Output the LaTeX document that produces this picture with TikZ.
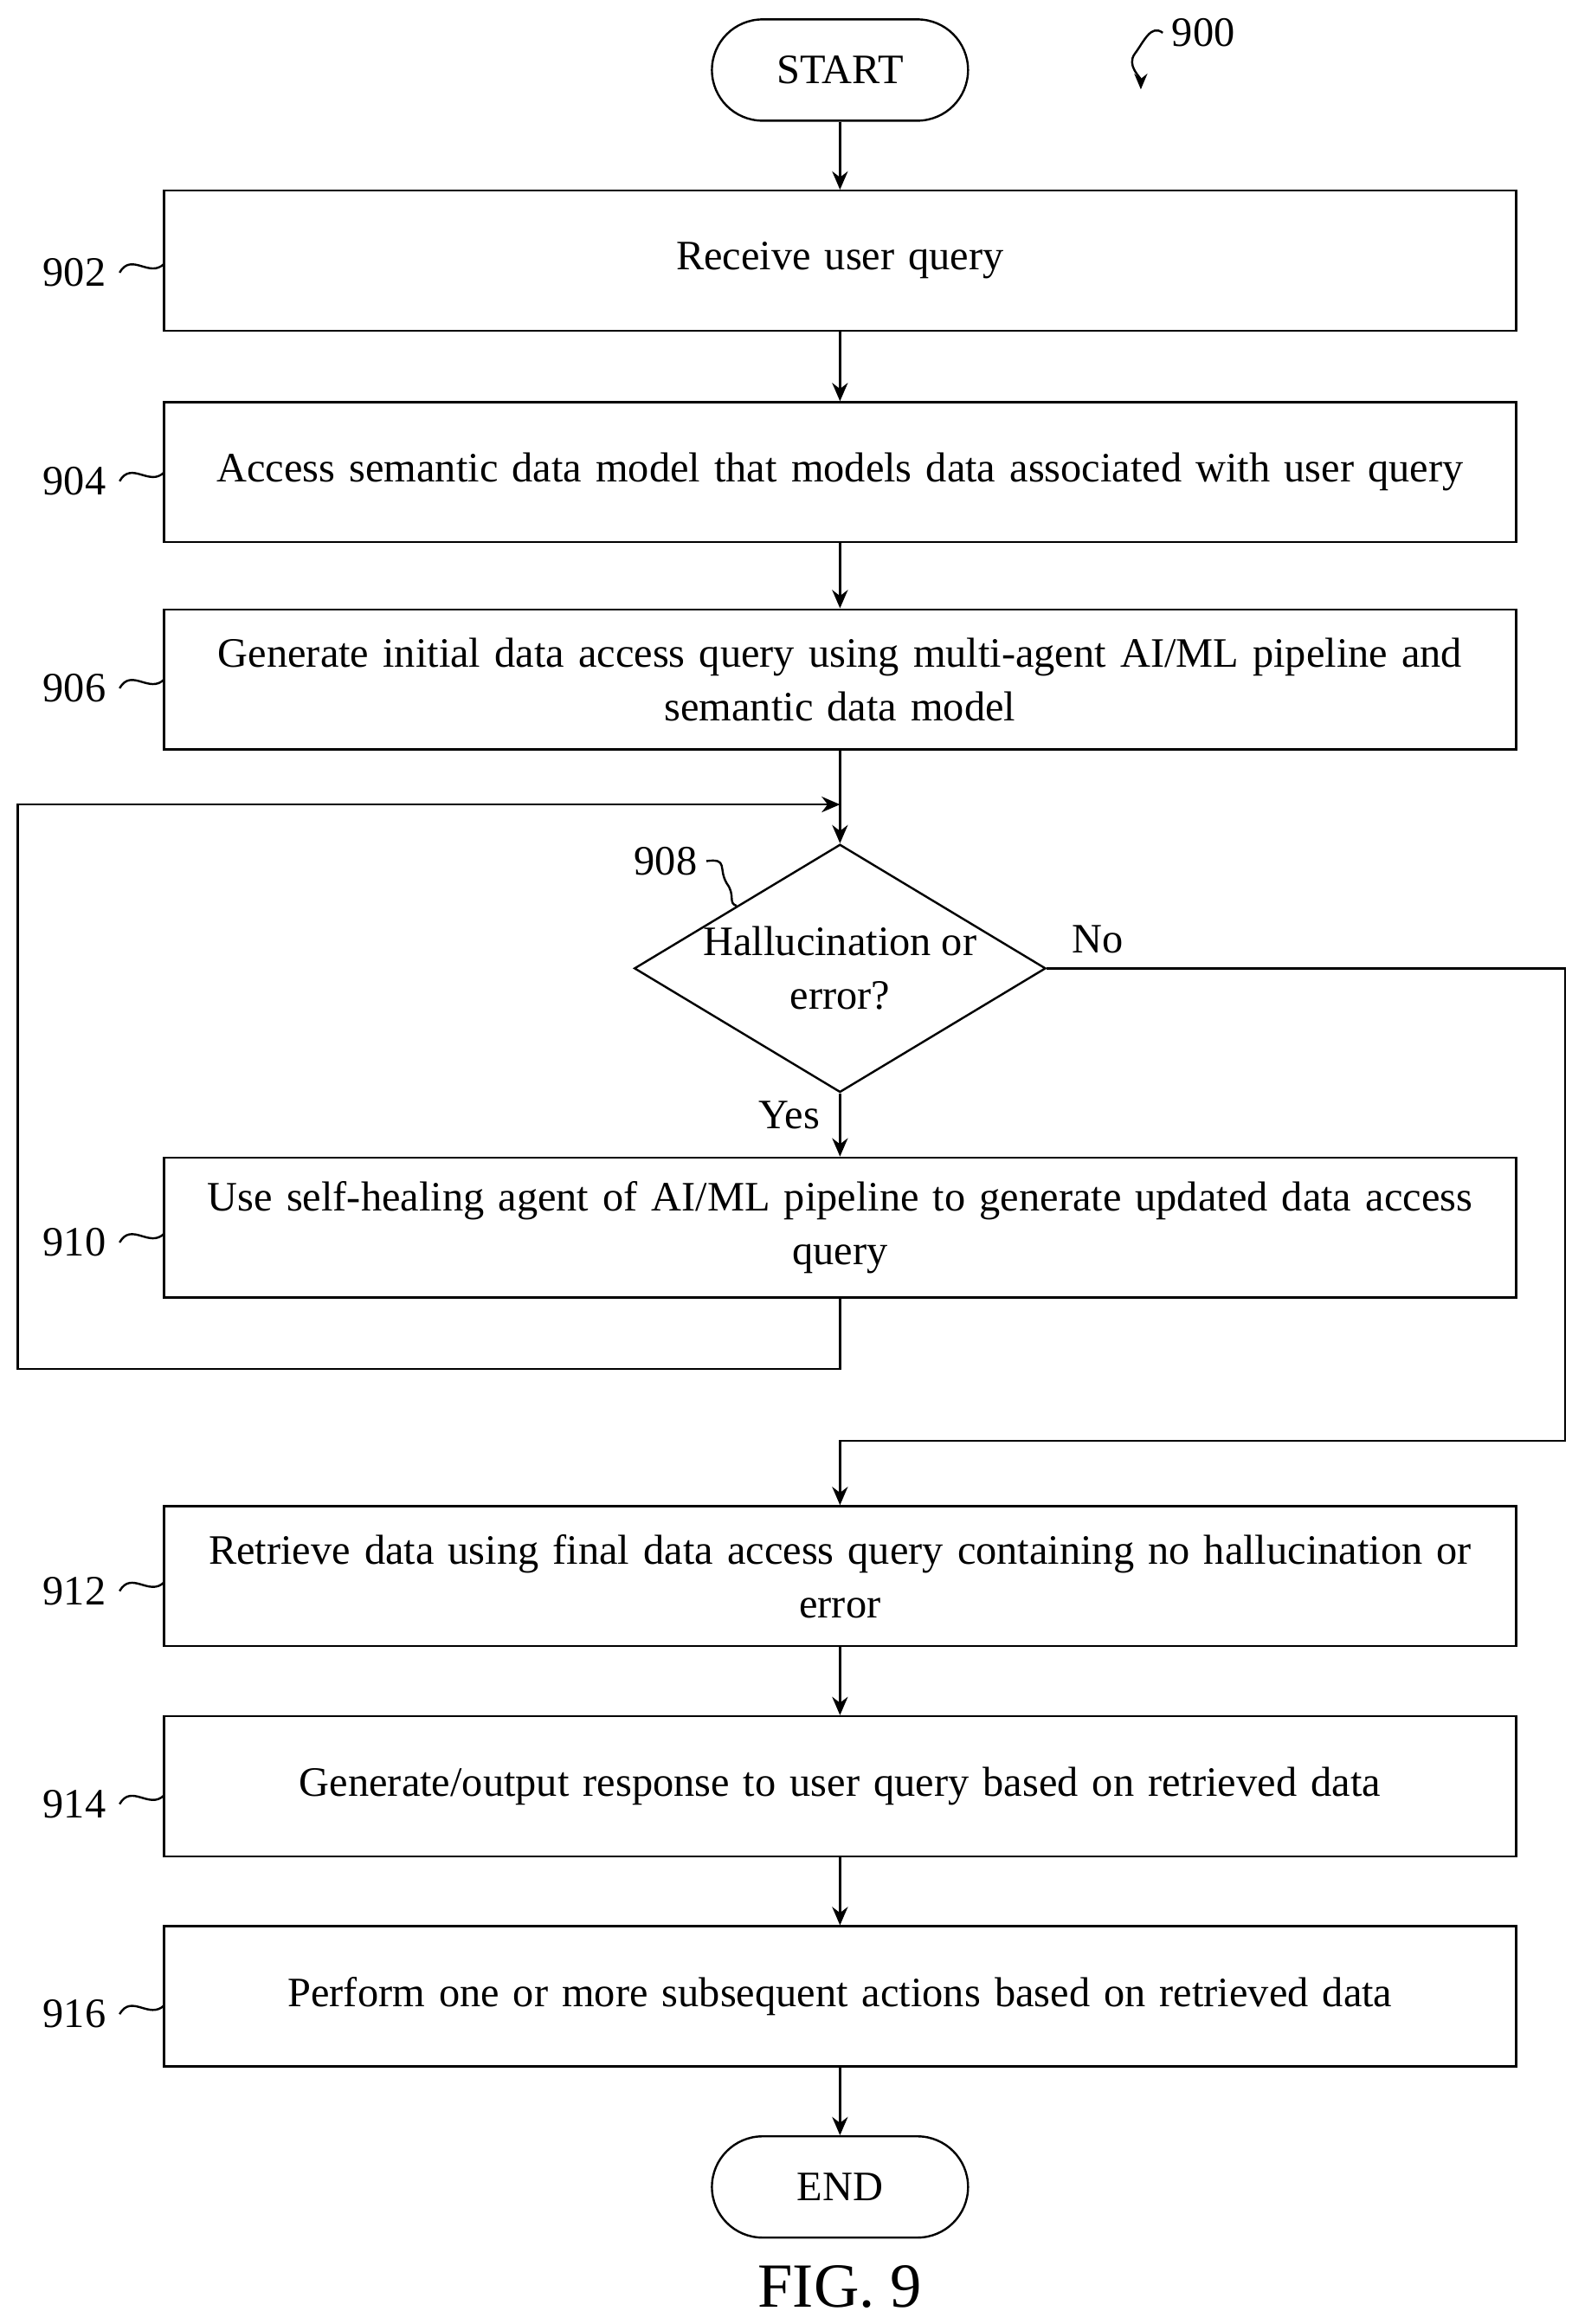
\documentclass[tikz,border=0pt]{standalone}
\usepackage{fontspec}
\setmainfont{Liberation Serif}
\usetikzlibrary{positioning,shapes.geometric,arrows.meta}
\begin{document}
\begin{tikzpicture}[x=0.02cm,y=-0.02cm,
    font=\fontsize{16}{20.5}\selectfont,
    procbox/.style={draw, thick, minimum width=18.16cm, minimum height=1.88cm, text width=17.6cm, align=center, inner sep=2pt},
    term/.style={draw, thick, rounded corners=0.68cm, minimum width=3.44cm, minimum height=1.36cm},
    decision/.style={draw, thick, diamond, aspect=1.66, minimum width=5.46cm, minimum height=3.28cm, inner sep=0pt, align=center},
    arrow/.style={-{Stealth[length=7pt,width=6pt]},thick},
    squig/.style={thick}
  ]
  \useasboundingbox (0,0) rectangle (1055,1560);

  % Terminals
  \node[term] (start) at (564,47) {START};
  \node[term] (end) at (564,1468) {END};

  % Steps
  \node[procbox] (s902) at (564,175) {Receive user query};
  \node[procbox] (s904) at (564,317) {Access semantic data model that models data associated with user query};
  \node[procbox] (s906) at (564,456) {Generate initial data access query using multi-agent AI/ML pipeline and\\semantic data model};
  \node[decision] (d908) at (564,650) {Hallucination or\\error?};
  \node[procbox] (s910) at (564,824) {Use self-healing agent of AI/ML pipeline to generate updated data access\\query};
  \node[procbox] (s912) at (564,1058) {Retrieve data using final data access query containing no hallucination or\\error};
  \node[procbox] (s914) at (564,1199) {Generate/output response to user query based on retrieved data};
  \node[procbox] (s916) at (564,1340) {Perform one or more subsequent actions based on retrieved data};

  % Reference numerals
  \foreach \n/\y in {902/183, 904/323, 906/462, 910/834, 912/1068, 914/1211, 916/1352} {
    \node (r\n) at (50,\y) {\n};
    \draw[squig] (r\n.east) ++(3,0) .. controls +(8,-14) and +(-10,10) .. ++(30,-6);
  }
  \node (r908) at (447,578) {908};
  \draw[squig] (r908.east) .. controls +(15,-2) and +(-6,-10) .. (488,593) .. controls +(6,8) and +(-6,-2) .. (d908.north west);
  \node (r900) at (808,22) {900};
  \draw[squig,-{Stealth[length=6pt,width=5pt]}] (r900.west) .. controls +(-8,-6) and +(6,-8) .. (762,36) .. controls +(-6,8) and +(0,-8) .. (766,60);

  % Connectors
  \draw[arrow] (start) -- (s902);
  \draw[arrow] (s902) -- (s904);
  \draw[arrow] (s904) -- (s906);
  \coordinate (loopin) at (564,540);
  \draw[arrow] (s906) -- (d908);
  \draw[arrow] (d908) -- node[pos=0.35, left=4pt] {Yes} (s910);
  \draw[arrow] (s910.south) -- (564,919) -- (12,919) -- (12,540) -- (loopin);
  \draw[arrow] (d908.east) node[above right=2pt and 6pt] {No} -- (1051,650) -- (1051,967) -- (564,967) -- (s912);
  \draw[arrow] (s912) -- (s914);
  \draw[arrow] (s914) -- (s916);
  \draw[arrow] (s916) -- (end);

  \node[font=\fontsize{24}{28}\selectfont] (fig) at (564,1535) {FIG. 9};
\end{tikzpicture}
\end{document}
